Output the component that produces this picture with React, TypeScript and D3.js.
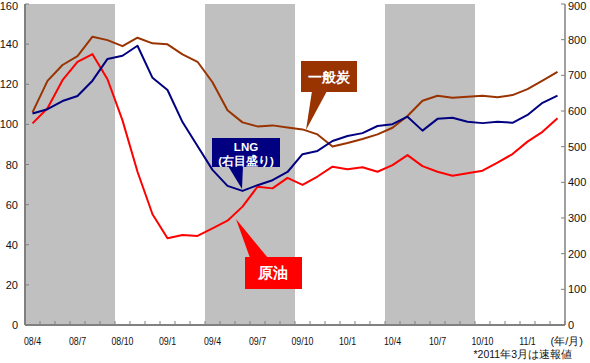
import React from "react";
import * as d3 from "d3";

const months: string[] = [
  "08/4","08/5","08/6","08/7","08/8","08/9","08/10","08/11","08/12",
  "09/1","09/2","09/3","09/4","09/5","09/6","09/7","09/8","09/9","09/10","09/11","09/12",
  "10/1","10/2","10/3","10/4","10/5","10/6","10/7","10/8","10/9","10/10","10/11","10/12",
  "11/1","11/2","11/3",
];

const coal: number[] = [
  106, 121.7, 129.6, 134, 143.7, 142, 139, 143.2, 140.4, 139.9, 134.9, 131.2,
  121, 107, 101, 99, 99.5, 98.5, 97.5, 95, 89, 90.7, 92.7, 95,
  98.3, 104.2, 111.8, 114.3, 113.3, 113.8, 114.3, 113.5, 114.6, 117.6, 121.8, 126.2,
];

const crude: number[] = [
  100.5, 108, 122, 131.2, 135, 122.5, 102, 76.4, 55.2, 43.2, 44.9, 44.4,
  48.2, 52, 59, 68.9, 68.1, 73.3, 69.8, 74, 78.9, 77.6, 78.6, 76.4,
  79.7, 84.7, 79.2, 76.4, 74.4, 75.6, 76.9, 80.9, 85.2, 91.4, 96.3, 103,
];

const lng: number[] = [
  593, 605, 628, 642, 685, 746, 755, 783, 693, 659, 569, 502,
  435, 390, 376, 392, 406, 429, 479, 488, 516, 530, 538, 558,
  563, 584, 545, 578, 581, 570, 566, 570, 567, 589, 623, 643,
];

const leftTicks: number[] = [0, 20, 40, 60, 80, 100, 120, 140, 160];
const rightTicks: number[] = [0, 100, 200, 300, 400, 500, 600, 700, 800, 900];
const shaded: [string, string][] = [["08/4", "08/9"], ["09/4", "09/9"], ["10/4", "10/9"]];

const FONT = "'Liberation Sans', Arial, sans-serif";

export default function App() {
  const W = 590, H = 363;
  const x0 = 25, x1 = 565, yTop = 4, yBot = 325;
  const x = d3.scaleBand<string>().domain(months).range([x0, x1]).padding(0);
  const yL = d3.scaleLinear().domain([0, 160]).range([yBot, yTop]);
  const yR = d3.scaleLinear().domain([0, 900]).range([yBot, yTop]);
  const cx = (m: string) => (x(m) as number) + x.bandwidth() / 2;

  const lineL = d3.line<number>().x((_, i) => cx(months[i])).y((d) => yL(d));
  const lineR = d3.line<number>().x((_, i) => cx(months[i])).y((d) => yR(d));

  const bounds = d3.range(months.length + 1).map((i) => x0 + i * x.bandwidth());

  return (
    <svg width={W} height={H} style={{ position: "absolute", left: 0, top: 0, background: "#fff" }} fontFamily={FONT}>
      {shaded.map(([a, b]) => (
        <rect key={a} x={x(a)} y={yTop} width={(x(b) as number) + x.bandwidth() - (x(a) as number)} height={yBot - yTop} fill="#c0c0c0" />
      ))}

      {/* lines */}
      <path d={lineL(coal) || ""} fill="none" stroke="#993300" strokeWidth={2} strokeLinejoin="round" />
      <path d={lineL(crude) || ""} fill="none" stroke="#ff0000" strokeWidth={2} strokeLinejoin="round" />
      <path d={lineR(lng) || ""} fill="none" stroke="#000080" strokeWidth={2} strokeLinejoin="round" />

      {/* axes */}
      <line x1={x0} x2={x0} y1={yTop} y2={yBot} stroke="#808080" strokeWidth={2} />
      <line x1={x1} x2={x1} y1={yTop} y2={yBot} stroke="#808080" strokeWidth={1.5} />
      <line x1={x0} x2={x1} y1={yBot} y2={yBot} stroke="#808080" strokeWidth={2} />
      {leftTicks.map((t) => (
        <g key={"l" + t}>
          <line x1={x0} x2={x0 + 4} y1={yL(t)} y2={yL(t)} stroke="#808080" />
          <text x={18} y={Math.max(yL(t) + 4, 9.5)} textAnchor="end" fontSize={11} fill="#111">{t}</text>
        </g>
      ))}
      {rightTicks.map((t) => (
        <g key={"r" + t}>
          <line x1={x1 - 4} x2={x1} y1={yR(t)} y2={yR(t)} stroke="#808080" />
          <text x={568} y={Math.max(yR(t) + 4, 9.5)} textAnchor="start" fontSize={11} fill="#111">{t}</text>
        </g>
      ))}
      {bounds.map((b, i) => (
        <line key={"b" + i} x1={b} x2={b} y1={yBot - 4} y2={yBot} stroke="#808080" />
      ))}
      {months.map((m, i) =>
        i % 3 === 0 ? (
          <text key={m} x={cx(m)} y={345} textAnchor="middle" fontSize={11} fill="#111" transform={`translate(${cx(m)},0) scale(0.8,1) translate(${-cx(m)},0)`}>{m}</text>
        ) : null
      )}
      <text x={583} y={345} textAnchor="end" fontSize={11} fill="#111">(年/月)</text>
      <text x={572} y={358} textAnchor="end" fontSize={10.5} fill="#111">*2011年3月は速報値</text>

      {/* LNG callout */}
      <polygon points="228,166 243,166 242,189" fill="#000080" />
      <rect x={212} y={138} width={68} height={29} fill="#000080" />
      <text x={246} y={151} textAnchor="middle" fontSize={11.5} fontWeight="bold" fill="#fff">LNG</text>
      <text x={246} y={165} textAnchor="middle" fontSize={11.5} fontWeight="bold" fill="#fff">(右目盛り)</text>

      {/* crude callout */}
      <polygon points="236,219 250,258 268,258" fill="#ff0000" />
      <rect x={245} y={257} width={57} height={32} fill="#ff0000" />
      <text x={273} y={278} textAnchor="middle" fontSize={15} fontWeight="bold" fill="#fff">原油</text>

      {/* coal callout */}
      <polygon points="312,91 327,91 306,130" fill="#993300" />
      <rect x={301} y={61} width={56} height={31} fill="#993300" />
      <text x={329} y={82} textAnchor="middle" fontSize={14} fontWeight="bold" fill="#fff">一般炭</text>
    </svg>
  );
}
